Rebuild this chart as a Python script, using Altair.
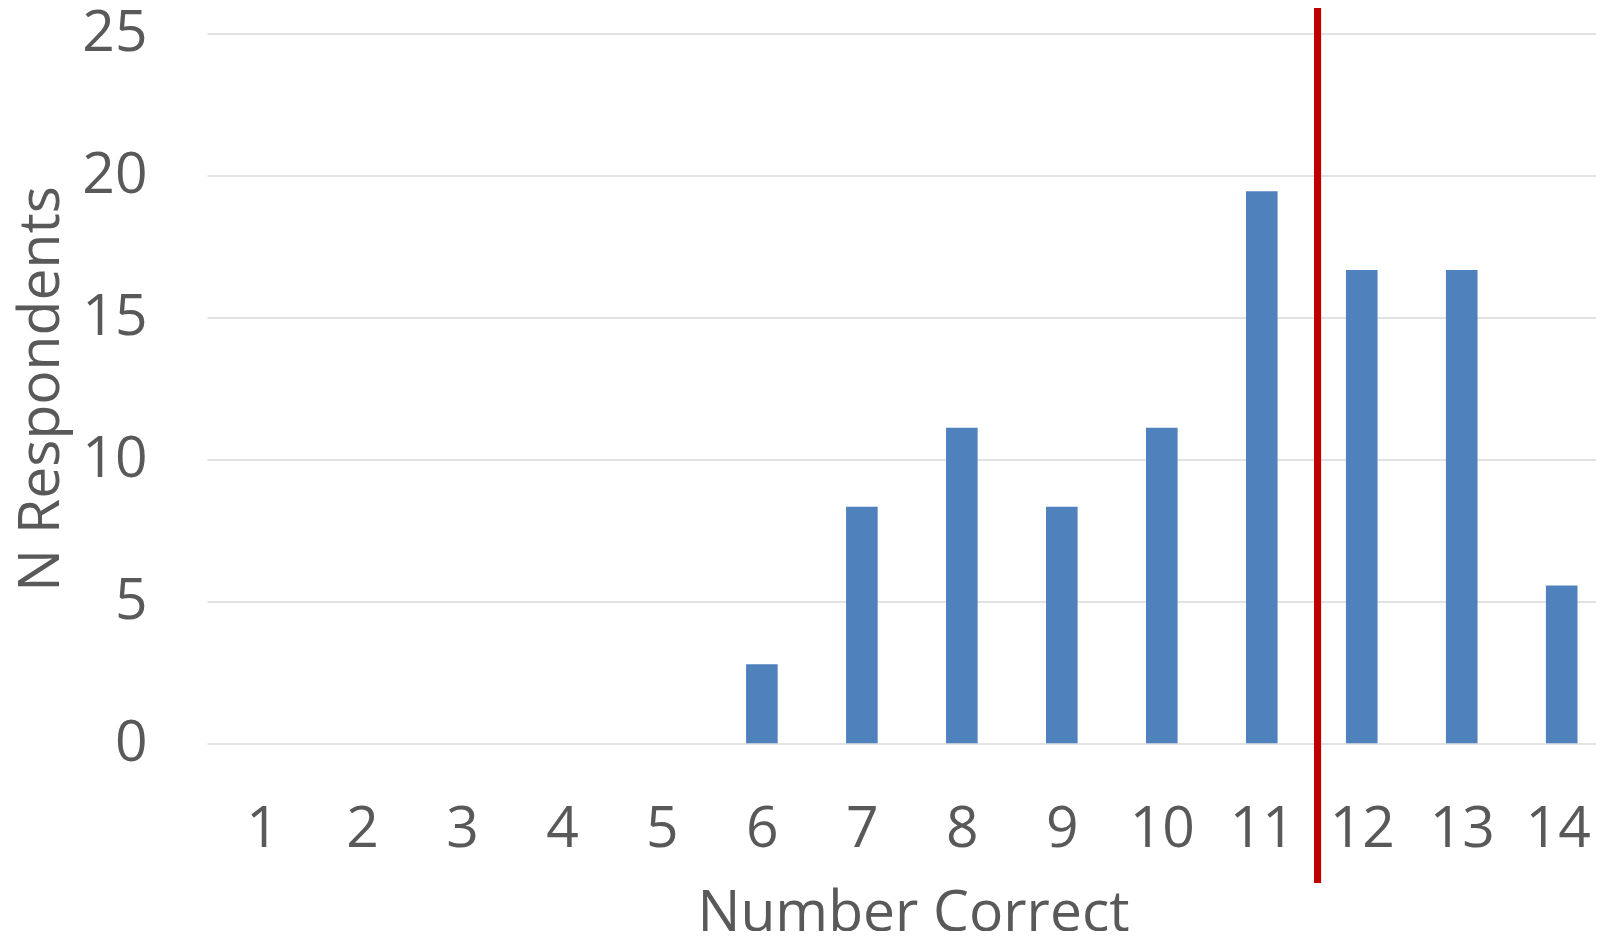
import altair as alt
import pandas as pd

# Data
number_correct = [1, 2, 3, 4, 5, 6, 7, 8, 9, 10, 11, 12, 13, 14]
respondents = [0, 0, 0, 0, 0, 2.78, 8.33, 11.11, 8.33, 11.11, 19.44, 16.67, 16.67, 5.56]
x_tick_values = [1, 2, 3, 4, 5, 6, 7, 8, 9, 10, 11, 12, 13, 14]
y_tick_values = [0, 5, 10, 15, 20, 25]
cutoff_x = 11.56
cutoff_top = 25.9
cutoff_bottom = -4.91

df = pd.DataFrame({"correct": number_correct, "n": respondents})

FONT = "Open Sans"
TEXT = "#595959"

xscale = alt.Scale(domain=[0.5, 14.293], nice=False, zero=False)
yscale = alt.Scale(domain=[0, 25], nice=False)

bars = alt.Chart(df).mark_bar(size=31.6, color="#4F81BD").encode(
    x=alt.X(
        "correct:Q",
        scale=xscale,
        axis=alt.Axis(
            values=x_tick_values,
            format="d",
            title="Number Correct",
            grid=False,
            ticks=False,
            tickSize=0,
            domain=False,
            labelPadding=103.4,
            labelBaseline="alphabetic",
            labelFlush=False,
            labelOverlap=False,
            labelOffset={"condition": {"test": "datum.value == 14", "value": -4}, "value": 0},
            titleX=706,
            titleY=187.2,
            titleBaseline="alphabetic",
        ),
    ),
    y=alt.Y(
        "n:Q",
        scale=yscale,
        axis=alt.Axis(
            values=y_tick_values,
            format="d",
            title="N Respondents",
            grid=True,
            gridColor="#d9d9d9",
            gridWidth=1.3,
            ticks=False,
            tickSize=0,
            domain=False,
            labelPadding=60,
            labelBaseline="middle",
            labelFlush=False,
            labelOverlap=False,
            titleX=-148.7,
            titleY=354.9,
            titleAngle=-90,
            titleAlign="center",
            titleBaseline="alphabetic",
        ),
    ),
)

rule = alt.Chart(df).mark_rule(color="#C00000", strokeWidth=6.5).encode(
    x=alt.datum(cutoff_x),
    y=alt.datum(cutoff_top),
    y2=alt.datum(cutoff_bottom),
)

chart = (
    alt.layer(bars, rule)
    .properties(
        width=1389,
        height=709.8,
        autosize=alt.AutoSizeParams(type="none"),
        padding={"left": 199, "top": 25.5, "right": 0, "bottom": 187.7},
        background="white",
    )
    .configure_view(stroke=None)
    .configure_axis(
        labelFont=FONT,
        labelFontSize=57,
        labelColor=TEXT,
        titleFont=FONT,
        titleFontSize=57,
        titleFontWeight="normal",
        titleColor=TEXT,
    )
)

chart.save("out.html", embed_options={"renderer": "svg", "actions": False})
